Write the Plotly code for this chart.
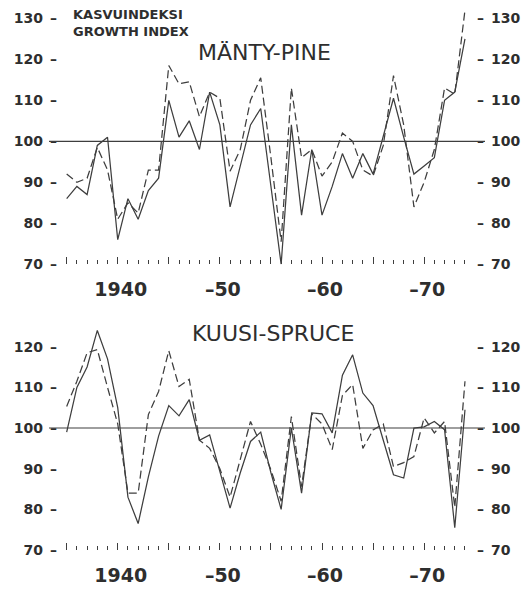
import plotly.graph_objects as go

years = list(range(1935, 1975))

pine_solid = [86, 89, 87, 99, 101, 76, 86, 81, 88, 91,
              110, 101, 105, 98, 112, 104, 84, 94, 104, 108,
              89, 70, 104, 82, 98, 82, 89, 97, 91, 97,
              92, 101, 110.5, 101, 92, 94, 96, 110, 112, 125]
pine_dashed = [92, 90, 91, 98.5, 93, 81, 85, 82.5, 93, 93,
               118.5, 114, 114.5, 106, 112, 110.5, 92.7, 98, 110, 115.5,
               96, 75.5, 113, 96, 98, 91.5, 95, 102, 100, 93,
               91.5, 99, 116, 104, 84, 90, 98, 113, 111.5, 132]
spruce_solid = [99, 110, 115, 124, 117, 105, 83, 76.5, 88, 98,
                105.5, 103, 107, 97, 98.3, 89, 80.3, 89, 96.7, 99,
                89, 80, 100, 84, 103.7, 103.5, 98.8, 113, 118, 108.6,
                105.5, 97, 88.5, 87.7, 100, 100.3, 101.6, 99.6, 75.5, 104.5]
spruce_dashed = [105.3, 111.5, 118.5, 119.3, 110, 101, 84, 84, 103.3, 109,
                 119, 110.2, 112, 97, 95, 90, 83, 92, 101.6, 96,
                 89.7, 82, 102.8, 85.6, 103.5, 101, 94.7, 108, 110.7, 95,
                 99.5, 101, 90.5, 91.5, 93, 102.5, 98.8, 101.6, 80.5, 111.5]

major_years = [1935, 1940, 1945, 1950, 1955, 1960, 1965, 1970]
major_labels = ["", "1940", "", "–50", "", "–60", "", "–70"]
minor_years = [y for y in years if y % 5 != 0]

pine_ticks = [70, 80, 90, 100, 110, 120, 130]
spruce_ticks = [70, 80, 90, 100, 110, 120]

top_title = "MÄNTY-PINE"
bottom_title = "KUUSI-SPRUCE"
axis_title_fi = "KASVUINDEKSI"
axis_title_en = "GROWTH INDEX"

# page body has an 8px margin; work in window pixels and convert
OFF = 8
W, H = 529 - OFF, 593 - OFF
INK = "#2e2e2e"
LINE = "#3e3e3e"
FONT = "DejaVu Sans"


def fx(px):
    return (px - OFF) / W


def fy(py):
    return 1 - (py - OFF) / H


x_range = [1933.27, 1975.96]
x_dom = [fx(49), fx(485)]
top_range = [70, 70 + (264.3 - OFF) / 4.1]
top_dom = [fy(264.3), 1.0]
bot_range = [70, 125]
bot_dom = [fy(550), fy(550 - 55 * 4.066)]

fig = go.Figure()
fig.add_trace(go.Scatter(x=years, y=pine_solid, mode="lines", xaxis="x", yaxis="y",
                         line=dict(color=LINE, width=1.25), hoverinfo="skip"))
fig.add_trace(go.Scatter(x=years, y=pine_dashed, mode="lines", xaxis="x", yaxis="y3",
                         line=dict(color=LINE, width=1.25, dash="8px,4px"), hoverinfo="skip"))
fig.add_trace(go.Scatter(x=years, y=spruce_solid, mode="lines", xaxis="x2", yaxis="y2",
                         line=dict(color=LINE, width=1.25), hoverinfo="skip"))
fig.add_trace(go.Scatter(x=years, y=spruce_dashed, mode="lines", xaxis="x2", yaxis="y4",
                         line=dict(color=LINE, width=1.25, dash="8px,4px"), hoverinfo="skip"))

tickfont_x = dict(family=FONT, size=19, color=INK, weight="bold")
tickfont_y = dict(family=FONT, size=14, color=INK, weight="bold")


def xaxis(anchor):
    return dict(domain=x_dom, range=x_range, anchor=anchor, showgrid=False, zeroline=False,
                showline=False, tickmode="array", tickvals=major_years, ticktext=major_labels,
                ticks="inside", ticklen=7, tickwidth=1, tickcolor=LINE,
                tickfont=tickfont_x, ticklabelstandoff=12, ticklabelshift=3,
                minor=dict(tickmode="array", tickvals=minor_years, ticks="inside",
                           ticklen=4, tickwidth=1, tickcolor=LINE),
                fixedrange=True)


def yaxis(dom, rng, vals, side, anchor, overlay=None):
    if side == "left":
        text = [f"{v}\u2002–" for v in vals]
    else:
        text = [f"–\u2002{v}" for v in vals]
    d = dict(domain=dom, range=rng, anchor=anchor, side=side, showgrid=False, zeroline=False,
             showline=False, tickmode="array", tickvals=vals, ticktext=text, ticks="",
             tickfont=tickfont_y, ticklabelstandoff=-9, fixedrange=True)
    if overlay:
        d["overlaying"] = overlay
    return d


shapes = []
for yref in ["y", "y2"]:
    xr = "x" if yref == "y" else "x2"
    shapes.append(dict(type="line", xref=f"{xr} domain", yref=yref, x0=0, x1=1, y0=100, y1=100,
                       line=dict(color=LINE, width=1.2)))

annotations = [
    dict(text=axis_title_fi, x=fx(72), y=fy(14), xref="paper", yref="paper",
         xanchor="left", yanchor="middle", showarrow=False, height=10, borderpad=0,
         valign="middle",
         font=dict(family=FONT, size=13, color=INK, weight="bold")),
    dict(text=axis_title_en, x=fx(72), y=fy(31.5), xref="paper", yref="paper",
         xanchor="left", yanchor="middle", showarrow=False, height=10, borderpad=0,
         valign="middle",
         font=dict(family=FONT, size=13, color=INK, weight="bold")),
    dict(text=top_title, x=fx(264.5), y=fy(52.5), xref="paper", yref="paper",
         xanchor="center", yanchor="middle", showarrow=False,
         font=dict(family=FONT, size=22, color=INK)),
    dict(text=bottom_title, x=fx(273), y=fy(333), xref="paper", yref="paper",
         xanchor="center", yanchor="middle", showarrow=False,
         font=dict(family=FONT, size=22, color=INK)),
]

fig.update_layout(
    width=W, height=H,
    margin=dict(l=0, r=0, t=0, b=0, autoexpand=False),
    paper_bgcolor="white", plot_bgcolor="white",
    showlegend=False,
    xaxis=xaxis("y"),
    xaxis2=xaxis("y2"),
    yaxis=yaxis(top_dom, top_range, pine_ticks, "left", "x"),
    yaxis3=yaxis(top_dom, top_range, pine_ticks, "right", "x", overlay="y"),
    yaxis2=yaxis(bot_dom, bot_range, spruce_ticks, "left", "x2"),
    yaxis4=yaxis(bot_dom, bot_range, spruce_ticks, "right", "x2", overlay="y2"),
    shapes=shapes,
    annotations=annotations,
)

fig.write_html("out.html")
